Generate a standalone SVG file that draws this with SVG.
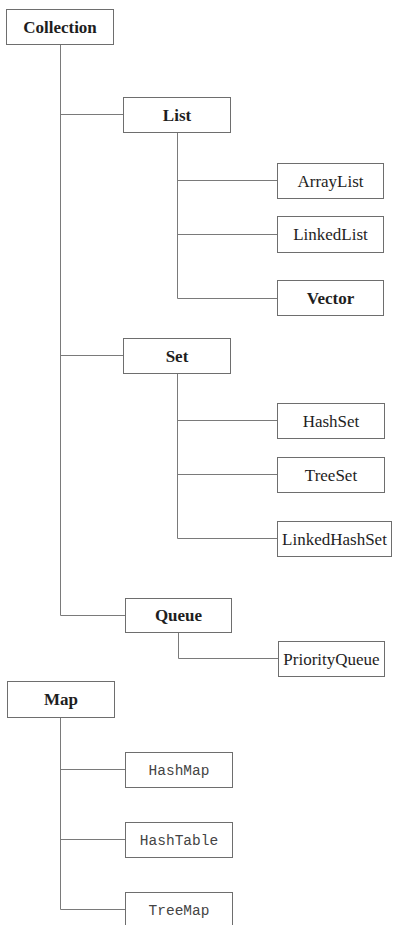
<svg xmlns="http://www.w3.org/2000/svg" width="394" height="925" viewBox="0 0 394 925">
  <style>
    .box { fill: #ffffff; stroke: #6e6e6e; stroke-width: 1; }
    .wire { fill: none; stroke: #7a7a7a; stroke-width: 1; }
    .t { font-family: "Liberation Serif", "Times New Roman", serif; font-size: 17px; fill: #1e1e1e; text-anchor: middle; }
    .b { font-weight: bold; }
    .m { font-family: "Liberation Mono", "Courier New", monospace; font-size: 14.5px; fill: #444; text-anchor: middle; }
  </style>
  <rect width="394" height="925" fill="#ffffff"/>

  <!-- tree connectors -->
  <g id="connectors" class="wire">
    <!-- Collection -->
    <path d="M60.5 44 V615.5 M60.5 114.5 H123 M60.5 355.5 H123 M60.5 615.5 H125"/>
    <!-- List -->
    <path d="M177.5 132 V298.5 M177.5 180.5 H277 M177.5 234.5 H277 M177.5 298.5 H277"/>
    <!-- Set -->
    <path d="M177.5 373 V538.5 M177.5 420.5 H277 M177.5 474.5 H277 M177.5 538.5 H277"/>
    <!-- Queue -->
    <path d="M178.5 632 V658.5 H278"/>
    <!-- Map -->
    <path d="M60.5 717 V909.5 M60.5 769.5 H125 M60.5 839.5 H125 M60.5 909.5 H125"/>
  </g>

  <g id="collection"><rect class="box" x="6.5" y="9.5" width="107" height="35"/><text class="t b" x="60" y="32.5">Collection</text></g>
  <g id="list"><rect class="box" x="123.5" y="97.5" width="107" height="35"/><text class="t b" x="177" y="120.5">List</text></g>
  <g id="arraylist"><rect class="box" x="277.5" y="163.5" width="106" height="35"/><text class="t" x="330.5" y="186.5">ArrayList</text></g>
  <g id="linkedlist"><rect class="box" x="277.5" y="216.5" width="106" height="36"/><text class="t" x="330.5" y="240">LinkedList</text></g>
  <g id="vector"><rect class="box" x="277.5" y="280.5" width="106" height="35"/><text class="t b" x="330.5" y="303.5">Vector</text></g>
  <g id="set"><rect class="box" x="123.5" y="338.5" width="107" height="35"/><text class="t b" x="177" y="361.5">Set</text></g>
  <g id="hashset"><rect class="box" x="277.5" y="403.5" width="107" height="35"/><text class="t" x="331" y="426.5">HashSet</text></g>
  <g id="treeset"><rect class="box" x="277.5" y="457.5" width="107" height="35"/><text class="t" x="331" y="480.5">TreeSet</text></g>
  <g id="linkedhashset"><rect class="box" x="277.5" y="521.5" width="114" height="35"/><text class="t" x="334.5" y="544.5">LinkedHashSet</text></g>
  <g id="queue"><rect class="box" x="125.5" y="598.5" width="106" height="34"/><text class="t b" x="178.5" y="621">Queue</text></g>
  <g id="priorityqueue"><rect class="box" x="278.5" y="641.5" width="106" height="35"/><text class="t" x="331.5" y="664.5">PriorityQueue</text></g>
  <g id="map"><rect class="box" x="7.5" y="681.5" width="107" height="36"/><text class="t b" x="61" y="705">Map</text></g>
  <g id="hashmap"><rect class="box" x="125.5" y="752.5" width="107" height="35"/><text class="m" x="179" y="775">HashMap</text></g>
  <g id="hashtable"><rect class="box" x="125.5" y="822.5" width="107" height="35"/><text class="m" x="179" y="845">HashTable</text></g>
  <g id="treemap"><rect class="box" x="125.5" y="892.5" width="107" height="40"/><text class="m" x="179" y="915">TreeMap</text></g>
</svg>
